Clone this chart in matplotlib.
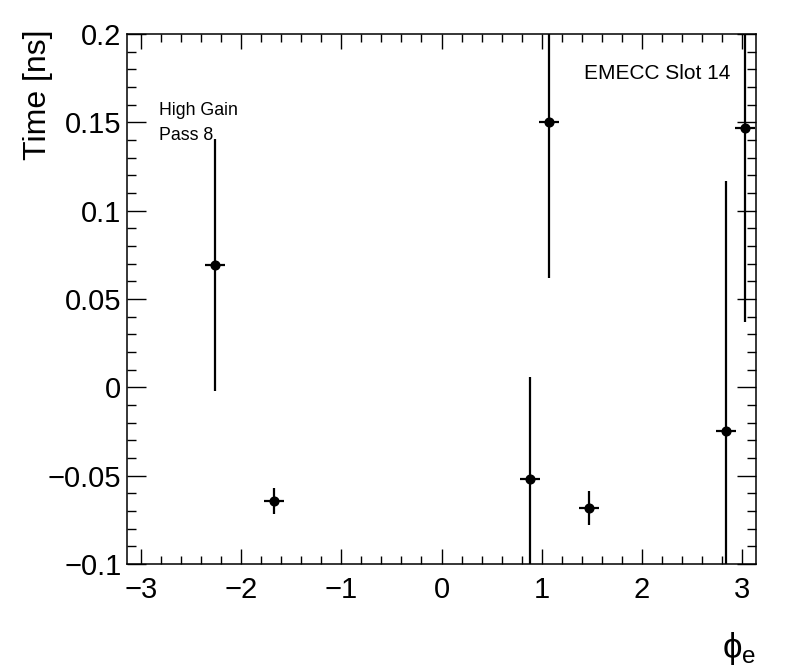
import matplotlib
matplotlib.use("Agg")
import matplotlib.pyplot as plt
from matplotlib.ticker import MultipleLocator, FixedLocator, FixedFormatter
import numpy as np

plt.rcParams['font.family'] = ['Liberation Sans', 'DejaVu Sans']
plt.rcParams['mathtext.fontset'] = 'custom'
plt.rcParams['mathtext.rm'] = 'Liberation Sans'
plt.rcParams['mathtext.it'] = 'Liberation Sans'

# data
phi = [-2.26, -1.67, 0.88, 1.07, 1.47, 2.84, 3.035]
time_ns = [0.0692, -0.0643, -0.0519, 0.150, -0.0683, -0.0247, 0.1466]
time_err = [0.0715, 0.0075, 0.058, 0.088, 0.0097, 0.1415, 0.1094]
phi_err = [0.1, 0.1, 0.1, 0.1, 0.1, 0.1, 0.1]

y_ticks = [-0.1, -0.05, 0.0, 0.05, 0.1, 0.15, 0.2]
y_ticklabels = ["\u22120.1", "\u22120.05", "0", "0.05", "0.1", "0.15", "0.2"]
x_ticks = [-3, -2, -1, 0, 1, 2, 3]
x_ticklabels = ["\u22123", "\u22122", "\u22121", "0", "1", "2", "3"]

fig = plt.figure(figsize=(7.96, 6.72), dpi=100)
ax = fig.add_axes([127/796, 1-564/672, (756-127)/796, (564-34)/672])

ax.errorbar(phi, time_ns, yerr=time_err, xerr=phi_err, fmt='o', color='black',
            markersize=6.3, elinewidth=1.6, capsize=0, zorder=3)

ax.set_xlim(-np.pi, np.pi)
ax.set_ylim(-0.1, 0.2)

ax.xaxis.set_major_locator(FixedLocator(x_ticks))
ax.xaxis.set_major_formatter(FixedFormatter(x_ticklabels))
ax.xaxis.set_minor_locator(MultipleLocator(0.2))
ax.yaxis.set_major_locator(FixedLocator(y_ticks))
ax.yaxis.set_major_formatter(FixedFormatter(y_ticklabels))
ax.yaxis.set_minor_locator(MultipleLocator(0.01))

ax.tick_params(which='both', direction='in', top=True, right=True, width=1.0, color='black')
ax.tick_params(axis='x', which='major', length=11, labelsize=21, pad=9)
ax.tick_params(axis='x', which='minor', length=5.5)
ax.tick_params(axis='y', which='major', length=14, labelsize=21, pad=4)
ax.tick_params(axis='y', which='minor', length=6.5)
for s in ax.spines.values():
    s.set_linewidth(1.1)

fig.text(38/796, 1-30/672, "Time [ns]", rotation=90, ha='center', va='top', fontsize=23)
fig.text(756/796, 1-658/672, r"$\phi_{\mathrm{e}}$", ha='right', va='baseline', fontsize=25)

fig.text(730/796, 1-79/672, "EMECC Slot 14", ha='right', va='baseline', fontsize=15)
fig.text(159/796, 1-115/672, "High Gain", ha='left', va='baseline', fontsize=12.8)
fig.text(159/796, 1-140/672, "Pass 8", ha='left', va='baseline', fontsize=12.8)

fig.savefig("out.png", dpi=100)
